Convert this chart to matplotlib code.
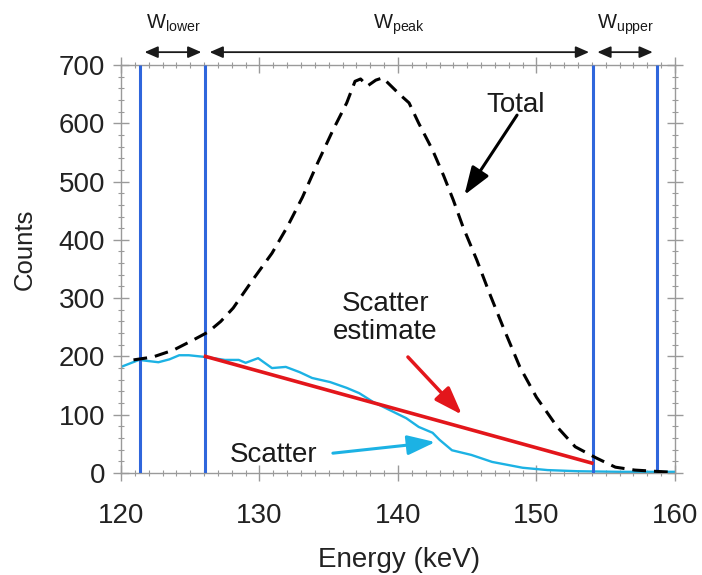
import matplotlib
matplotlib.use('Agg')
import matplotlib.pyplot as plt
from matplotlib.ticker import MultipleLocator

plt.rcParams['font.family'] = ['Liberation Sans', 'DejaVu Sans']
plt.rcParams['mathtext.fontset'] = 'custom'
plt.rcParams['mathtext.rm'] = 'Liberation Sans'

# total spectrum (dashed)
total_e = [120.9, 122.3, 123.8, 125.2, 126.3, 127.2, 128.1, 129.5, 130.9, 132.0,
           133.1, 134.2, 135.3, 136.3, 136.9, 137.3, 137.8, 138.4, 138.9, 139.5,
           140.1, 140.8, 141.5, 142.5, 143.3, 144.0, 144.7, 145.7, 146.6, 147.6,
           148.8, 150.0, 151.5, 152.8, 154.3, 155.7, 157.1, 158.5, 160.0]
total_c = [194, 199, 211, 228, 242, 260, 283, 331, 377, 422,
           473, 532, 588, 635, 672, 676, 664, 674, 678, 664,
           650, 635, 600, 554, 510, 468, 422, 365, 309, 250,
           182, 130, 79, 45, 26, 10, 5, 3, 1]

# true scatter (cyan)
scatter_e = [120.0, 121.3, 122.7, 123.5, 124.2, 124.9, 126.1, 127.5, 128.5, 129.0,
             129.9, 130.9, 131.9, 132.9, 133.8, 135.1, 136.3, 137.2, 138.2, 139.4,
             140.6, 141.5, 142.5, 143.0, 143.9, 145.3, 146.8, 149.0, 150.8, 153.0,
             156.0, 160.0]
scatter_c = [182, 194, 190, 195, 202, 202, 199, 194, 194, 189,
             197, 180, 182, 173, 163, 156, 146, 137, 122, 108,
             94, 79, 69, 57, 39, 31, 19, 9, 5, 3,
             2, 2]

# trapezoid scatter estimate (red)
est_e = [126.1, 154.0]
est_c = [200, 17]

# energy window edges
window_edges = [121.4, 126.1, 154.1, 158.7]
window_names = ['lower', 'peak', 'upper']

fig = plt.figure(figsize=(7.02, 5.75), dpi=100)
ax = fig.add_axes([0.1724, 0.1774, 0.789, 0.7096])

ax.vlines(window_edges, 0, 700, color='#2f66dc', lw=2.2, zorder=3)
ax.plot(scatter_e, scatter_c, color='#1cb2e4', lw=1.7, zorder=2)
ax.plot(est_e, est_c, color='#e3161b', lw=2.6, zorder=4)
ax.plot(total_e, total_c, color='black', lw=2.2, dashes=(4.5, 2.6), zorder=5)

ax.set_xlim(120, 160)
ax.set_ylim(0, 700)
ax.xaxis.set_major_locator(MultipleLocator(10))
ax.xaxis.set_minor_locator(MultipleLocator(1))
ax.yaxis.set_major_locator(MultipleLocator(100))
ax.yaxis.set_minor_locator(MultipleLocator(20))
ax.tick_params(which='both', direction='inout', top=True, right=True,
               color='#9a9a9a', labelsize=20, labelcolor='#222222')
ax.tick_params(which='major', length=11, width=1)
ax.tick_params(which='minor', length=5, width=0.8)
ax.tick_params(axis='x', pad=16)
ax.tick_params(axis='y', pad=6)
for s in ax.spines.values():
    s.set_color('#9a9a9a')
    s.set_linewidth(1)

ax.set_xlabel('Energy (keV)', fontsize=20, color='#222222')
ax.set_ylabel('Counts', fontsize=18.5, color='#222222')
ax.xaxis.set_label_coords(0.502, -0.213)
ax.xaxis.label.set_va('center')
ax.yaxis.set_label_coords(-0.173, 0.547)
ax.yaxis.label.set_va('center')

# window arrows above the plot
gap = 0.3
for i, name in enumerate(window_names):
    lo, hi = window_edges[i], window_edges[i + 1]
    ax.annotate('', xy=(lo + gap, 722), xytext=(hi - gap, 722),
                arrowprops=dict(arrowstyle='<|-|>,head_length=0.8,head_width=0.35',
                                mutation_scale=10, lw=1.3, color='#1a1a1a',
                                shrinkA=0, shrinkB=0),
                annotation_clip=False)
    ax.text((lo + hi) / 2, 763, 'W$_{\\mathregular{%s}}$' % name, ha='center',
            va='baseline', fontsize=14.5, color='#1a1a1a', clip_on=False)

# labels with arrows
head = '-|>,head_length=0.85,head_width=0.3'
ax.text(148.5, 619, 'Total', ha='center', va='baseline', fontsize=20, color='#1a1a1a')
ax.annotate('', xy=(144.8, 477), xytext=(148.6, 614),
            arrowprops=dict(arrowstyle=head, mutation_scale=20, lw=2.2,
                            color='black', shrinkA=0, shrinkB=0))

ax.text(139.1, 230, 'Scatter\nestimate', ha='center', va='baseline', fontsize=20,
        color='#1a1a1a', linespacing=1.12)
ax.annotate('', xy=(144.62, 100), xytext=(140.72, 199),
            arrowprops=dict(arrowstyle=head, mutation_scale=20, lw=2.5,
                            color='#e3161b', shrinkA=0, shrinkB=0))

ax.text(131.05, 19, 'Scatter', ha='center', va='baseline', fontsize=20, color='#1a1a1a')
ax.annotate('', xy=(142.7, 53), xytext=(135.3, 34),
            arrowprops=dict(arrowstyle=head, mutation_scale=20, lw=2.2,
                            color='#1cb2e4', shrinkA=0, shrinkB=0))

fig.savefig('out.png', dpi=100)
